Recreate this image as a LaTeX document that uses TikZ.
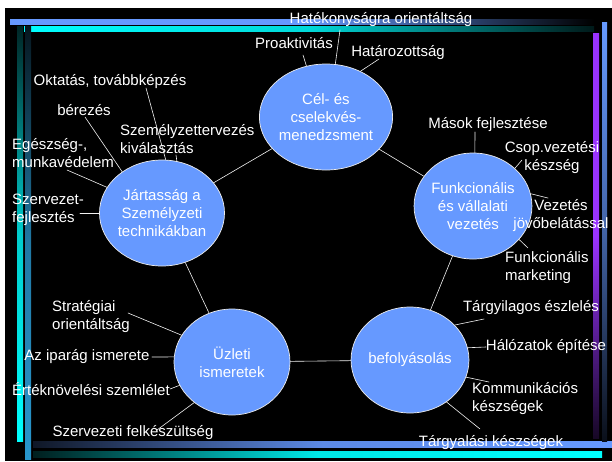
\documentclass[tikz,border=0pt]{standalone}
\usepackage{fontspec}
\setmainfont{Liberation Sans}
\usetikzlibrary{shapes.geometric}
\definecolor{compblue}{RGB}{102,153,255}
\definecolor{compcyan}{RGB}{0,255,255}
\definecolor{comppurple}{RGB}{153,51,255}
\definecolor{compteal}{RGB}{40,150,205}

\begin{document}
\begin{tikzpicture}[x=1pt,y=-1pt,line cap=round,line join=round,
  font=\fontsize{15}{18}\selectfont,
  skill/.style={ellipse,fill=compblue,draw=white!85!gray,line width=.7pt,
   minimum width=116pt,minimum height=106pt,inner sep=0pt,
   text=white,align=center},
  lbl/.style={text=white,inner sep=0pt},
  lead/.style={white!90!gray,line width=.6pt}]
 \useasboundingbox (0,0) rectangle (612,461);
 \fill[white] (0,0) rectangle (612,461);
 \fill[black] (5,8) rectangle (612,461);
 \shade[left color=compblue,right color=black,middle color=compblue]
  (10,19) rectangle (594,24);
 \shade[left color=compcyan,right color=compcyan!10!black,
   middle color=compcyan!85!black] (24,26) rectangle (594,31);
 \shade[top color=compcyan!15!black,bottom color=compcyan,
   middle color=compcyan!80!black] (17,26) rectangle (23,441);
 \shade[top color=compteal!15!black,bottom color=compteal,
   middle color=compteal!80!black] (25,26) rectangle (31,459);
 \shade[left color=compblue!15!black,right color=compblue,
   middle color=compblue!90!black] (33,441) rectangle (612,447);
 \shade[left color=compcyan!12!black,right color=compcyan,
   middle color=compcyan!90!black] (33,451) rectangle (602,457);
 \shade[top color=comppurple,bottom color=comppurple!15!black,
   middle color=comppurple] (593,33) rectangle (599,438);
 \shade[top color=compblue,bottom color=compblue!10!black,
   middle color=compblue!65!black] (602,22) rectangle (607,441);

 \node[skill] (cel) at (326,117) {Cél- és\\cselekvés-\\menedzsment};
 \node[skill] (jart) at (162,213) {Jártasság a\\Személyzeti\\technikákban};
 \node[skill] (funk) at (473,206) {Funkcionális\\és vállalati\\vezetés};
 \node[skill] (uzl) at (232,362) {Üzleti\\ismeretek};
 \node[skill] (bef) at (410,360) {befolyásolás};
 \draw[lead] (cel) -- (jart);
 \draw[lead] (cel) -- (funk);
 \draw[lead] (jart) -- (uzl);
 \draw[lead] (uzl) -- (bef);
 \draw[lead] (bef) -- (funk);

 \node[lbl] (hatek) at (381,20) {Hatékonyságra orientáltság};
 \node[lbl] (proakt) at (294,43) {Proaktivitás};
 \node[lbl] (hataroz) at (398,53) {Határozottság};
 \node[lbl] (oktat) at (110,82) {Oktatás, továbbképzés};
 \node[lbl] (berez) at (84,110) {bérezés};
 \node[lbl,align=left,anchor=west] (szemely) at (120,139)
  {Személyzettervezés\\kiválasztás};
 \node[lbl,align=left,anchor=west] (egesz) at (12,153)
  {Egészség-,\\munkavédelem};
 \node[lbl,align=left,anchor=west] (szfejl) at (12,210)
  {Szervezet-\\fejlesztés};
 \node[lbl] (masok) at (488,125) {Mások fejlesztése};
 \node[lbl,align=center] (csop) at (552,158) {Csop.vezetési\\készség};
 \node[lbl,align=center] (jovo) at (561,216) {Vezetés\\jövőbelátással};
 \node[lbl,align=left,anchor=west] (fmark) at (505,268)
  {Funkcionális\\marketing};
 \node[lbl,align=left,anchor=west] (strat) at (52,317)
  {Stratégiai\\orientáltság};
 \node[lbl] (ipar) at (87,357) {Az iparág ismerete};
 \node[lbl] (ertek) at (91,389) {Értéknövelési szemlélet};
 \node[lbl] (felk) at (133,433) {Szervezeti felkészültség};
 \node[lbl] (targyil) at (531,308) {Tárgyilagos észlelés};
 \node[lbl] (halo) at (546,347) {Hálózatok építése};
 \node[lbl,align=left,anchor=west] (komm) at (472,399)
  {Kommunikációs\\készségek};
 \node[lbl] (targyal) at (491,443) {Tárgyalási készségek};

 \foreach \n/\x/\y/\e in {
   hatek/340/30/cel.80, proakt/303/55/cel.111, hataroz/379/59/cel.53,
   oktat/146/88/jart.86, berez/85/117/jart.134, szemely/176/155/jart.74,
   egesz/67/170/jart.155, szfejl/80/213/jart.180,
   masok/475/132/funk.88, csop/522/160/funk.42, jovo/548/198/funk.12,
   fmark/528/248/funk.-36,
   strat/128/313/uzl.152, ipar/152/357/uzl.175, ertek/170/389/uzl.204,
   felk/157/430/uzl.227,
   targyil/484/319/bef.38, halo/486/347/bef.12, komm/489/382/bef.-17,
   targyal/480/429/bef.-49}{
  \coordinate (\n-l) at (\x,\y);
  \draw[lead] (\n-l) -- (\e);
 }
\end{tikzpicture}
\end{document}
